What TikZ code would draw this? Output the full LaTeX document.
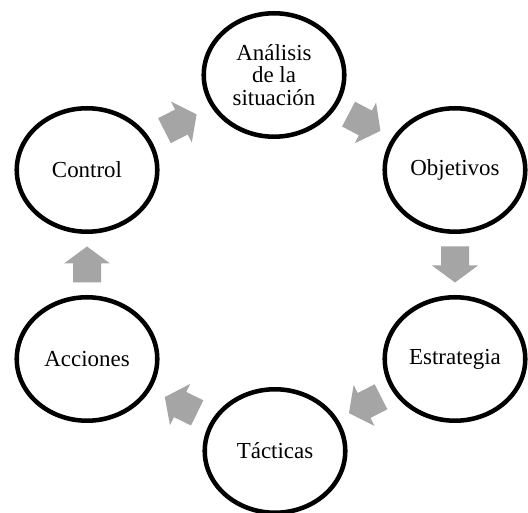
\documentclass[tikz,border=0pt]{standalone}
\usepackage{fontspec}
\setmainfont{Liberation Serif}
\usetikzlibrary{shapes.geometric,calc}
\definecolor{arrowgray}{HTML}{A5A5A5}
\tikzset{
  stage/.style={ellipse, draw=black, fill=white, line width=3.4pt,
    minimum width=105.4pt, minimum height=92.6pt, inner sep=0pt,
    align=center, font=\rmfamily\fontsize{17.2}{17}\selectfont},
  blkarrow/.pic={\fill[arrowgray] (-18,-14) -- (1,-14) -- (1,-23) -- (18,0)
    -- (1,23) -- (1,14) -- (-18,14) -- cycle;}
}
\newcommand\flowarrow[2]{%
  \path let \p1=(#1.center), \p2=(#2.center),
    \n1={atan2(\y2-\y1,\x2-\x1)} in
    pic[rotate=\n1] at ($(#1.center)!0.5!(#2.center)$) {blkarrow};}
\begin{document}
\begin{tikzpicture}[x=0.75pt,y=0.75pt]
\fill[white] (0,0) rectangle (528,513);
\useasboundingbox (0,0) rectangle (528,513);
\node[stage] (ana) at (274,438) {Análisis\\de la\\situación};
\node[stage] (obj) at (455,343) {Objetivos};
\node[stage] (est) at (455,154) {Estrategia};
\node[stage] (tac) at (275,62) {Tácticas};
\node[stage] (acc) at (87,154) {Acciones};
\node[stage] (ctl) at (87,343) {Control};
\flowarrow{ctl}{ana}
\flowarrow{ana}{obj}
\flowarrow{obj}{est}
\flowarrow{est}{tac}
\flowarrow{tac}{acc}
\flowarrow{acc}{ctl}
\end{tikzpicture}
\end{document}
